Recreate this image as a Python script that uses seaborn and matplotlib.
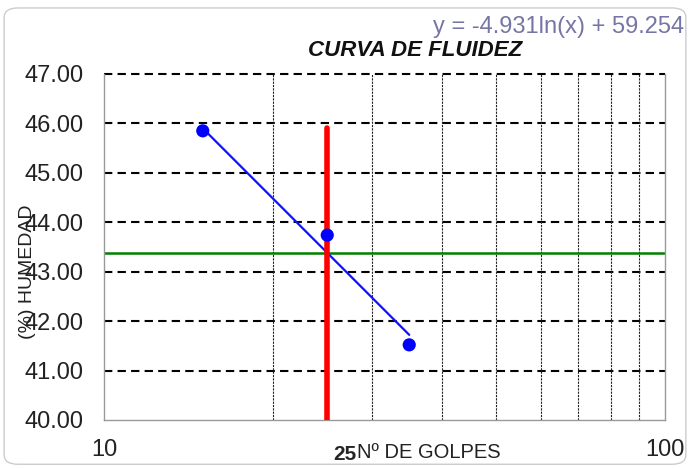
import numpy as np
import pandas as pd
import matplotlib
matplotlib.use("Agg")
import matplotlib.pyplot as plt
from matplotlib.ticker import FixedLocator, NullFormatter
from matplotlib.patches import FancyBboxPatch
import seaborn as sns

# data
golpes = [15, 25, 35]
humedad = [45.85, 43.74, 41.52]
fit_a = -4.931
fit_b = 59.254
golpes_ref = 25
y_ticks = [40, 41, 42, 43, 44, 45, 46, 47]
x_ticks = [10, 100]

sns.set_theme(style="white")
plt.rcParams['font.family'] = ['Liberation Sans', 'DejaVu Sans']
narrow = ['Liberation Sans Narrow', 'Liberation Sans']

df = pd.DataFrame({'golpes': golpes, 'humedad': humedad})

fig = plt.figure(figsize=(6.9, 4.68), dpi=100)
ax = fig.add_axes([0.1507, 0.1026, 0.8131, 0.7393])

# trend line y = a ln(x) + b over the data range
trend = pd.DataFrame({'golpes': [min(golpes), max(golpes)]})
trend['humedad'] = fit_a * np.log(trend['golpes']) + fit_b
hum_ref = fit_a * np.log(golpes_ref) + fit_b

ax.set_xscale('log')
ax.set_xlim(10, 100)
ax.set_ylim(40, 47)

# grid
for y in y_ticks[1:]:
    ax.axhline(y, color='black', lw=1.5, ls=(0, (4, 2.5)), zorder=1, clip_on=False)
for x in range(20, 100, 10):
    ax.axvline(x, color='#222222', lw=0.8, ls=(0, (2, 1)), zorder=1)

sns.lineplot(data=trend, x='golpes', y='humedad', color='#1010ff', lw=1.6, ax=ax, zorder=3)
ax.plot([golpes_ref, golpes_ref], [40, max(humedad) + 0.05], color='#ff0000', lw=4, zorder=4,
        solid_capstyle='round')
ax.axhline(hum_ref, color='#008000', lw=1.8, zorder=2)
sns.scatterplot(data=df, x='golpes', y='humedad', color='#0000ff', s=90, edgecolor='none', ax=ax, zorder=5)

ax.xaxis.set_major_locator(FixedLocator(x_ticks))
ax.xaxis.set_minor_formatter(NullFormatter())
ax.set_xticks(x_ticks)
ax.set_xticklabels([str(v) for v in x_ticks], fontsize=17, color='#222222')
ax.set_yticks(y_ticks)
ax.set_yticklabels([f"{v:.2f}" for v in y_ticks], fontsize=17, color='#222222')
ax.tick_params(axis='y', length=0, pad=15)
ax.tick_params(axis='x', length=0, pad=14)
ax.set_xlabel('')
ax.set_ylabel('')

for side in ['left', 'bottom', 'right']:
    ax.spines[side].set_color('#999999')
    ax.spines[side].set_linewidth(1)
ax.spines['top'].set_visible(False)

# texts
fig.text(0.601, 0.893, 'CURVA DE FLUIDEZ', fontsize=16, fontweight='bold', fontstyle='italic',
         ha='center', va='center', color='#111111')
fig.text(0.991, 0.942, 'y = -4.931ln(x) + 59.254', fontsize=17, color='#7676a6',
         ha='right', va='center')
fig.text(0.483, 0.029, '25', fontsize=15, fontweight='bold', ha='left', va='center', family=narrow)
fig.text(0.518, 0.034, 'Nº DE GOLPES', fontsize=14.5, ha='left', va='center', color='#222222',
         family=narrow)
fig.text(0.040, 0.42, '(%) HUMEDAD', fontsize=14, rotation=90, ha='center', va='center',
         color='#222222')

fig.patches.append(FancyBboxPatch((0.006, 0.008), 0.988, 0.975, boxstyle='round,pad=0,rounding_size=0.02',
                                  transform=fig.transFigure, fill=False, edgecolor='#cccccc', lw=1))

fig.savefig('out.png', dpi=100)
